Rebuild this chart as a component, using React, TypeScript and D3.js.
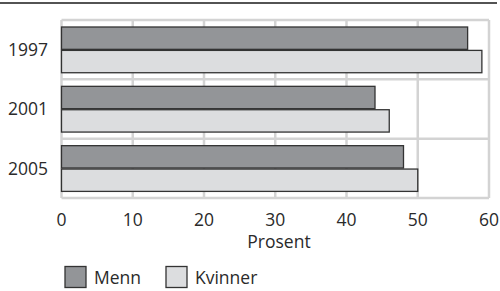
import React from "react";
import * as d3 from "d3";

const categories = ["1997", "2001", "2005"];
const menn = [57, 44, 48];
const kvinner = [59, 46, 50];
const xTicks = [0, 10, 20, 30, 40, 50, 60];
const seriesNames = ["Menn", "Kvinner"];
const seriesColors = ["#939598", "#dcdddf"];

const W = 500;
const H = 291;
const left = 61.5;
const right = 489;
const top = 20;
const bottom = 198;
const font = "'Open Sans', 'Noto Sans', sans-serif";
const textColor = "#2a2a2a";
const gridColor = "#d3d3d3";
const fs = 17.5;

export default function App() {
  const x = d3.scaleLinear().domain([0, 60]).range([left, right]);
  const y = d3.scaleBand<string>().domain(categories).range([top, bottom]);
  const sub = d3
    .scaleBand<string>()
    .domain(seriesNames)
    .range([7, y.bandwidth() - 6.6])
    .paddingInner(0.045);
  const series = [menn, kvinner];

  return (
    <svg
      width={W}
      height={H}
      style={{ position: "absolute", left: 0, top: 0, display: "block" }}
      fontFamily={font}
    >
      <rect width={W} height={H} fill="#fff" />
      <line x1={0} x2={497} y1={3} y2={3} stroke="#1a1a1a" strokeWidth={1.5} />
      {xTicks.map((t) => (
        <line
          key={"vg" + t}
          x1={x(t)}
          x2={x(t)}
          y1={top}
          y2={bottom}
          stroke={gridColor}
          strokeWidth={2.5}
        />
      ))}
      {[top, ...categories.map((c) => (y(c) as number) + y.bandwidth())].map((v, i) => (
        <line
          key={"hg" + i}
          x1={left}
          x2={right}
          y1={v}
          y2={v}
          stroke={gridColor}
          strokeWidth={2.5}
        />
      ))}
      {categories.map((c, ci) =>
        seriesNames.map((s, si) => (
          <rect
            key={c + s}
            x={x(0)}
            y={(y(c) as number) + (sub(s) as number)}
            width={x(series[si][ci]) - x(0)}
            height={sub.bandwidth()}
            fill={seriesColors[si]}
            stroke="#333"
            strokeWidth={1.3}
          />
        ))
      )}
      {categories.map((c) => (
        <text
          key={"cl" + c}
          x={48}
          y={(y(c) as number) + y.bandwidth() / 2}
          dy="0.36em"
          textAnchor="end"
          fontSize={fs}
          fill={textColor}
        >
          {c}
        </text>
      ))}
      {xTicks.map((t) => (
        <text
          key={"xt" + t}
          x={x(t)}
          y={226}
          textAnchor="middle"
          fontSize={fs}
          fill={textColor}
        >
          {t}
        </text>
      ))}
      <text x={279} y={248} textAnchor="middle" fontSize={fs} fill={textColor}>
        Prosent
      </text>
      {seriesNames.map((s, i) => {
        const lx = [65, 166][i];
        return (
          <g key={"lg" + s}>
            <rect
              x={lx}
              y={266.5}
              width={21}
              height={21}
              fill={seriesColors[i]}
              stroke="#333"
              strokeWidth={1.3}
            />
            <text x={lx + 29} y={284} fontSize={fs} fill={textColor}>
              {s}
            </text>
          </g>
        );
      })}
    </svg>
  );
}
